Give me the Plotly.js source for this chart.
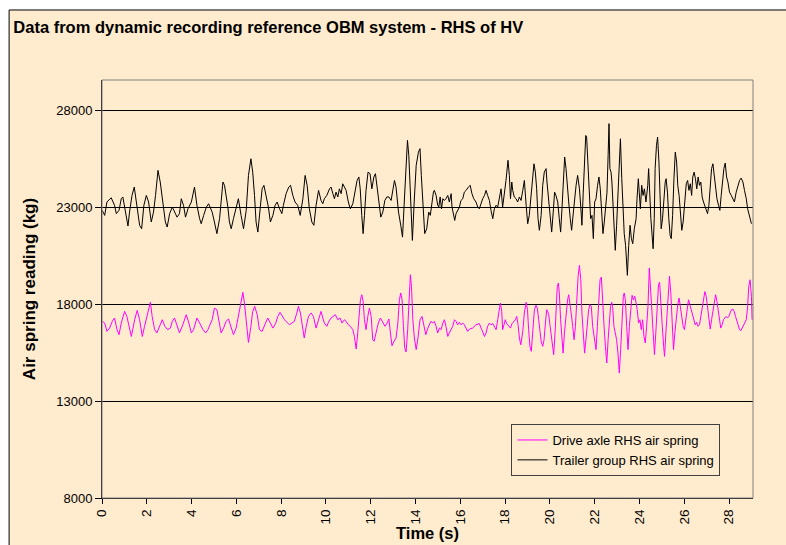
<!DOCTYPE html>
<html>
<head>
<meta charset="utf-8">
<script src="https://cdn.plot.ly/plotly-3.0.1.min.js"></script>
<style>
html,body{margin:0;padding:0;background:#ffffff;}
#chart{width:786px;height:545px;}
</style>
</head>
<body>
<div id="chart"></div>
<script>
// Time (s) and air spring reading (kg)
const driveTime = [0.01,0.12,0.22,0.34,0.46,0.56,0.67,0.76,0.86,1.01,1.11,1.20,1.31,1.46,1.57,1.68,1.80,1.90,2.05,2.16,2.24,2.35,2.45,2.57,2.69,2.81,2.93,3.05,3.14,3.24,3.35,3.46,3.61,3.76,3.88,3.99,4.09,4.24,4.36,4.51,4.63,4.73,
4.92,5.02,5.13,5.22,5.32,5.43,5.54,5.65,5.77,5.87,5.99,6.09,6.20,6.29,6.36,6.44,6.54,6.65,6.73,6.82,6.93,7.03,7.15,7.27,7.40,7.52,7.63,7.75,7.85,7.95,8.04,8.15,8.25,8.37,8.48,8.59,8.70,8.77,8.86,8.94,9.03,9.12,9.22,9.34,9.44,9.56,9.67,
9.78,9.86,9.93,10.04,10.13,10.23,10.34,10.42,10.53,10.63,10.72,10.83,10.90,11.00,11.09,11.20,11.27,11.35,11.42,11.48,11.54,11.60,11.66,11.72,11.79,11.87,11.94,12.02,12.09,12.15,12.24,12.34,12.43,12.54,12.64,12.73,12.81,12.88,12.95,13.04,13.13,13.21,13.28,13.34,13.40,13.46,13.52,13.58,13.65,13.73,13.77,13.82,13.88,13.95,14.03,14.11,14.20,14.29,14.37,14.46,14.55,
14.69,14.77,14.84,14.92,14.99,15.07,15.14,15.22,15.29,15.36,15.44,15.51,15.59,15.66,15.74,15.81,15.88,15.96,16.03,16.11,16.18,16.26,16.33,16.41,16.55,16.70,16.85,16.93,17.00,17.08,17.15,17.22,17.30,17.37,17.45,17.52,17.60,17.67,17.75,17.79,17.85,17.89,17.95,18.01,18.07,18.15,18.24,18.31,18.39,18.46,18.52,18.58,18.64,18.70,18.79,18.86,18.94,19.00,19.05,19.11,19.17,19.23,19.31,19.38,19.44,19.50,19.56,19.61,
19.68,19.74,19.80,19.86,19.90,19.95,20.01,20.07,20.13,20.17,20.23,20.29,20.33,20.38,20.42,20.48,20.54,20.59,20.65,20.72,20.79,20.84,20.90,20.96,21.02,21.08,21.14,21.20,21.26,21.32,21.38,21.43,21.49,21.55,21.61,21.67,21.73,21.79,21.85,21.91,21.99,22.06,22.12,22.18,22.24,22.30,22.36,22.42,22.48,22.54,22.60,22.66,22.71,22.76,22.80,22.86,22.92,22.98,23.04,23.10,23.16,23.22,23.28,23.32,23.37,23.43,23.49,23.55,23.61,23.67,23.73,23.79,23.85,23.90,23.96,24.02,24.08,24.14,24.20,24.26,24.32,24.38,24.44,
24.51,24.57,24.63,24.67,24.73,24.79,24.85,24.90,24.96,25.02,25.08,25.12,25.18,25.24,25.30,25.34,25.40,25.46,25.52,25.58,25.64,25.71,25.77,25.83,25.89,25.95,26.01,26.07,26.13,26.19,26.25,26.31,26.37,26.43,26.49,26.55,26.61,26.68,26.74,26.80,26.86,26.92,26.98,27.04,27.10,27.16,27.22,27.28,27.34,27.40,27.46,27.52,27.58,27.63,27.69,27.75,27.81,27.87,27.93,27.99,28.05,28.11,28.17,28.23,28.29,28.35,28.41,28.47,28.53,28.59,28.65,28.71,28.77,28.83,28.88,28.94,29.00,29.03];
const driveLoad = [17110,17020,16590,16760,17110,17280,16680,16420,17020,17620,17360,16850,16330,17190,17670,17190,16330,16850,17620,18090,17360,16680,16510,16850,17190,16850,16680,16760,17110,17280,16930,16510,16930,17450,17020,16510,16680,17280,17020,16680,16510,16680,
17190,17790,17710,17020,16510,16760,17110,17230,16850,16420,16760,17360,18220,18600,18050,17020,16020,16850,17620,17880,17450,16680,16590,16930,17280,17020,16760,16990,17360,17570,17360,17190,17070,16930,17020,17110,17540,17880,17540,16850,16250,16850,17360,17540,17360,16760,17190,
17620,17280,17020,16850,17110,17280,17360,17450,17190,17280,17020,17190,17110,16930,16850,16680,16330,15680,16510,17620,18220,18480,18140,17190,16680,17360,17790,17360,16160,16080,16510,17020,17280,17020,16850,17020,17230,16510,15850,16080,16250,17020,18220,18570,18220,16850,15730,15530,16680,18570,19510,18910,17190,16250,15650,16250,17190,17360,16850,16420,16760,
17110,17020,17110,16850,16510,16760,16680,17020,17190,16850,16330,16510,16680,16850,17190,17110,16930,17060,16930,17020,16930,16760,16590,16710,16760,16930,16990,16760,16510,16330,16510,16850,17020,16930,16990,16850,16680,17190,17880,18050,17620,16680,16930,17190,16990,16850,16760,16990,17110,17190,17360,16930,16250,15900,16590,17540,18090,17710,16680,15820,15560,16510,17710,17930,17790,17190,16330,16080,
15820,16160,17020,17710,17620,17450,16850,16160,15650,15390,16510,17880,18910,19080,18570,17190,15990,15470,16510,17540,18220,18480,18050,17450,16850,16160,16850,18570,19430,19990,19250,17540,16330,15470,16160,16850,17710,17970,17880,16850,16160,15650,16850,18220,19250,19390,18400,16850,15820,14960,16160,17190,17880,18090,17880,16850,16510,16160,15470,14440,15650,17190,18400,18570,18220,16850,15650,16850,17880,18450,18220,18400,18050,17710,17020,17190,16680,17190,16330,15990,16850,17880,19860,
18570,16850,15820,15390,16510,18050,19000,19120,18220,16850,15820,15300,16510,17880,19080,19430,18570,16850,15650,16510,17360,17970,18310,17880,17360,16850,16680,17190,17880,18220,17970,17710,17360,17110,16930,17060,16850,16930,17360,17880,18400,18640,18400,17710,17020,16710,17190,17710,18220,18480,18140,17540,16930,16760,16930,17190,17280,17360,17280,17360,17540,17710,17740,17620,17360,17110,16850,16680,16630,16760,16850,17020,17190,17880,18910,19250,18400,17190];

const trailerTime = [0.01,0.12,0.22,0.41,0.56,0.64,0.76,0.86,0.93,1.04,1.16,1.23,1.34,1.44,1.56,1.68,1.77,1.87,1.98,2.08,2.20,2.30,2.39,2.50,2.60,2.72,2.83,2.91,3.02,3.14,3.24,3.35,3.46,3.54,3.64,3.73,3.84,3.99,4.13,4.24,4.36,4.43,4.54,4.66,4.76,
4.92,5.02,5.13,5.25,5.32,5.40,5.47,5.54,5.62,5.69,5.77,5.87,5.99,6.09,6.21,6.32,6.44,6.54,6.65,6.73,6.81,6.88,6.96,7.06,7.15,7.23,7.33,7.43,7.52,7.63,7.73,7.82,7.93,8.03,8.10,8.22,8.34,8.42,8.52,8.62,8.74,8.85,8.97,9.07,9.16,9.26,9.37,9.46,9.56,9.67,
9.78,9.86,9.93,10.04,10.16,10.23,10.31,10.38,10.45,10.53,10.60,10.68,10.75,10.83,10.90,11.00,11.09,11.20,11.30,11.39,11.47,11.53,11.60,11.66,11.72,11.79,11.88,11.97,12.05,12.14,12.21,12.28,12.36,12.45,12.54,12.63,12.72,12.81,12.91,12.98,13.06,13.13,13.24,13.34,13.42,13.49,13.56,13.64,13.70,13.76,13.82,13.86,13.94,14.03,14.13,14.20,14.26,14.34,14.41,14.50,14.59,
14.66,14.74,14.80,14.84,14.92,14.99,15.04,15.10,15.16,15.22,15.29,15.36,15.44,15.51,15.59,15.63,15.71,15.75,15.81,15.88,15.96,16.03,16.11,16.18,16.26,16.36,16.44,16.52,16.60,16.70,16.78,16.85,16.93,17.00,17.08,17.15,17.22,17.30,17.37,17.45,17.52,17.60,17.67,17.75,17.82,17.89,17.97,18.04,18.13,18.19,18.24,18.30,18.34,18.41,18.49,18.56,18.64,18.71,18.79,18.86,18.94,19.01,19.08,19.16,19.23,19.29,19.35,19.41,19.47,19.53,19.61,
19.68,19.75,19.83,19.87,19.93,20.01,20.08,20.16,20.21,20.27,20.35,20.42,20.48,20.54,20.60,20.66,20.72,20.78,20.84,20.91,20.97,21.05,21.11,21.17,21.24,21.32,21.38,21.43,21.49,21.55,21.60,21.64,21.70,21.76,21.82,21.88,21.94,22.00,22.06,22.13,22.19,22.25,22.31,22.37,22.43,22.49,22.55,22.60,22.64,22.68,22.73,22.77,22.82,22.86,22.92,22.98,23.04,23.10,23.15,23.21,23.27,23.32,23.38,23.46,23.52,23.58,23.64,23.70,23.77,23.85,23.89,23.95,23.99,24.04,24.10,24.16,24.22,24.29,24.37,24.41,
24.51,24.57,24.61,24.66,24.70,24.76,24.81,24.87,24.93,24.97,25.03,25.09,25.15,25.19,25.25,25.31,25.37,25.42,25.48,25.54,25.60,25.66,25.71,25.77,25.83,25.89,25.95,26.01,26.09,26.15,26.21,26.27,26.33,26.38,26.44,26.50,26.56,26.62,26.68,26.74,26.80,26.86,26.92,26.98,27.04,27.10,27.16,27.22,27.28,27.34,27.40,27.46,27.53,27.59,27.65,27.71,27.77,27.83,27.89,27.95,28.02,28.10,28.17,28.24,28.32,28.39,28.47,28.54,28.62,28.69,28.77,28.83,28.88,28.94,29.00];
const trailerLoad = [22830,22570,23260,23480,23090,22660,22830,23430,23520,22740,22020,22740,23600,24030,23090,22060,21880,23090,23600,23260,22230,22740,23600,24890,24290,23090,22230,21970,22660,23000,22740,22480,22660,23430,23090,22480,22910,23260,24030,23090,22400,22140,22570,23000,23170,
22740,22230,21630,22400,23170,24290,24120,23690,23000,22230,21880,22400,23000,23430,22570,21880,22830,24630,25490,24800,23600,22230,21710,22910,23940,24120,23600,23000,22230,22570,23090,23260,22910,22660,23090,23690,24030,24120,23600,23260,23090,22570,23430,24630,24120,22910,22230,22060,23090,23860,
23340,23170,23430,23600,23940,24030,23690,23430,23770,23520,23940,23690,24200,24030,23860,23260,22910,23170,23860,24370,24550,23940,22570,21630,22570,23860,24800,24720,23940,24550,24720,24120,23260,22480,22740,23340,23520,23520,23340,23940,24370,24030,22740,22060,21450,23090,24630,26440,25660,24120,22400,21280,23260,25150,25830,26010,24630,22740,21630,21880,22740,
22570,23340,23770,23860,23600,23090,23000,23520,22910,23430,23340,23430,23600,23260,23690,23000,22480,22310,22660,22830,23000,23340,23430,23770,23860,24030,24120,23690,23430,23260,23000,22910,23260,23430,23600,23860,23600,23340,22830,22400,22910,23090,23000,23520,23940,23000,23690,24370,25410,24630,23430,24290,23860,23520,23430,23260,23520,23340,23860,24370,23090,22140,22570,23770,24800,25230,24800,23940,22400,21800,22570,
24120,24800,24980,24290,23430,22400,21710,22910,23770,23600,23260,22400,21710,22910,24630,25580,24980,23940,23260,22400,21800,22740,23600,24120,24630,23940,23000,22060,23770,25830,26690,26610,25320,23600,22400,22570,21370,23260,23430,24120,24550,23940,22400,21630,22230,22910,23770,25660,27300,24980,24800,24290,23090,22400,20770,22060,23600,25660,26520,24460,22740,21630,21020,19480,21020,22060,21370,21110,21880,22400,23430,24460,23770,22910,24120,23600,23940,23260,24120,24980,
22400,21630,20850,22400,24980,26180,26610,25320,23260,21880,22400,23600,24290,24460,23770,22400,21540,21370,22570,24460,25830,25320,24120,23600,22570,21800,22230,23260,24200,24370,23860,24200,23600,24550,24800,24460,23940,24550,24120,24290,23520,23260,23090,22910,22660,23090,24120,24980,25230,24630,23770,23430,23090,22830,23600,24460,24980,25270,24550,24290,23770,23600,23430,23260,23770,24120,24370,24490,24290,23860,23430,22910,22660,22400,22140];

const seriesNames = ["Drive axle RHS air spring", "Trailer group RHS air spring"];
const yTicks = [8000, 13000, 18000, 23000, 28000];
const xTicks = [0,2,4,6,8,10,12,14,16,18,20,22,24,26,28];

const ARIAL = '"Liberation Sans", Arial, sans-serif';
const CREAM = '#FFEBCD';

const traces = [
  {x: driveTime, y: driveLoad, type: 'scatter', mode: 'lines', name: seriesNames[0],
   line: {color: '#FF00FF', width: 1}},
  {x: trailerTime, y: trailerLoad, type: 'scatter', mode: 'lines', name: seriesNames[1],
   line: {color: '#000000', width: 1}}
];

const layout = {
  width: 786, height: 545,
  paper_bgcolor: '#ffffff',
  plot_bgcolor: '#C0C0C0',
  margin: {l: 102, r: 32.5, t: 80, b: 47},
  showlegend: true,
  title: {text: 'Data from dynamic recording reference OBM system - RHS of HV',
          font: {family: ARIAL, size: 16.5, color: '#000000', weight: 'bold'},
          x: 0.017, xref: 'container', xanchor: 'left',
          y: 1 - 27/545, yref: 'container', yanchor: 'middle'},
  xaxis: {
    range: [0, 29.07], tickvals: xTicks, ticktext: xTicks.map(String),
    tickangle: -90, ticks: 'outside', ticklen: 5, tickcolor: '#000000', tickwidth: 1,
    tickfont: {family: ARIAL, size: 13.5, color: '#000000'},
    showline: true, linecolor: '#000000', linewidth: 1,
    showgrid: false, zeroline: false,
    title: {text: 'Time (s)', font: {family: ARIAL, size: 16.5, color: '#000000', weight: 'bold'}, standoff: 0}
  },
  yaxis: {
    range: [8000, 29550], tickvals: yTicks, ticktext: yTicks.map(String),
    ticks: 'outside', ticklen: 6, tickcolor: '#000000', tickwidth: 1,
    tickfont: {family: ARIAL, size: 13, color: '#000000'},
    showline: true, linecolor: '#000000', linewidth: 1,
    showgrid: true, gridcolor: '#000000', gridwidth: 1, zeroline: false,
    title: {text: 'Air spring reading (kg)', font: {family: ARIAL, size: 17, color: '#000000', weight: 'bold'}, standoff: 16}
  },
  legend: {
    x: 0.629, y: 0.177, xanchor: 'left', yanchor: 'top',
    bgcolor: CREAM, bordercolor: '#404040', borderwidth: 1,
    font: {family: ARIAL, size: 13, color: '#000000'},
    tracegroupgap: 0
  },
  shapes: [
    {type: 'rect', xref: 'paper', yref: 'paper', x0: -0.1427, x1: 1.3, y0: -0.5, y1: 1.1675,
     fillcolor: CREAM, line: {color: '#000000', width: 1}, layer: 'below'},
    {type: 'rect', xref: 'paper', yref: 'paper', x0: 0, x1: 1, y0: 0, y1: 1,
     fillcolor: 'rgba(0,0,0,0)', line: {color: '#808080', width: 1}, layer: 'above'}
  ]
};

Plotly.newPlot('chart', traces, layout, {displayModeBar: false, staticPlot: true});
</script>
</body>
</html>
